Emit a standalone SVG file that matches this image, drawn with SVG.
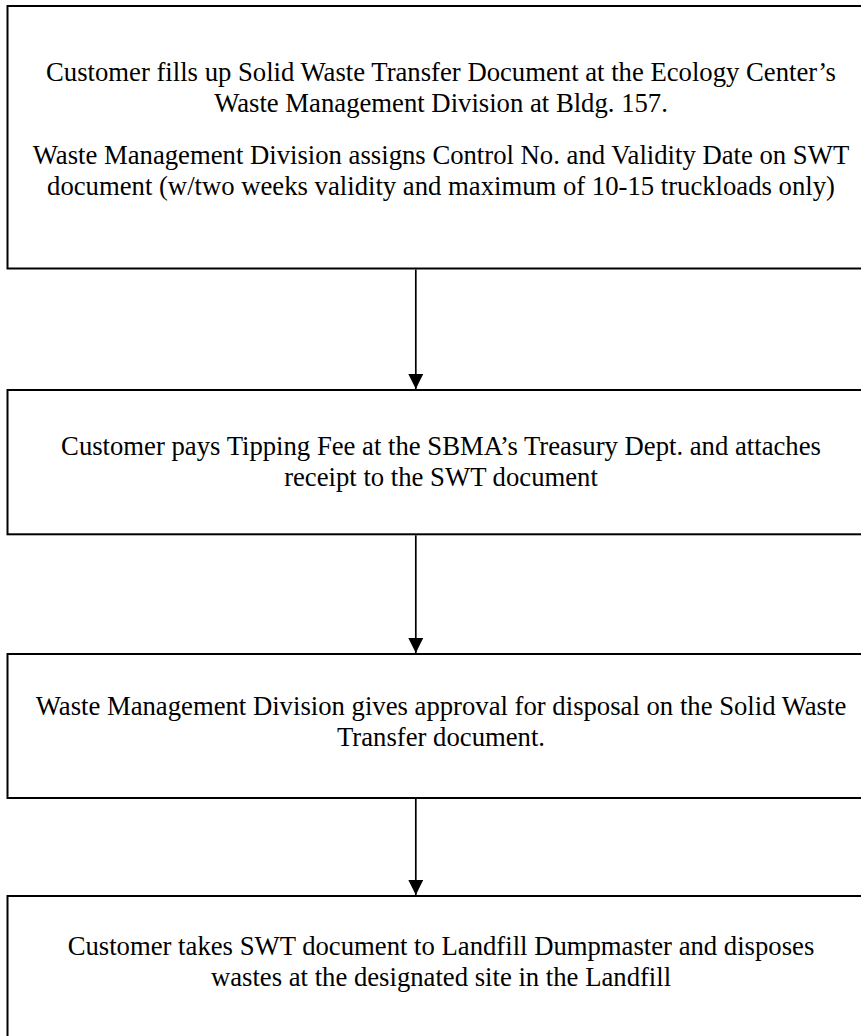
<svg xmlns="http://www.w3.org/2000/svg" width="861" height="1036" viewBox="0 0 861 1036">
  <style>
    .box { fill: #ffffff; stroke: #000000; stroke-width: 2; }
    .lbl { font-family: "Liberation Serif", "Times New Roman", serif; font-size: 26.7px; fill: #000000; text-anchor: middle; }
    .conn { stroke: #000000; stroke-width: 1.7; fill: none; }
  </style>
  <defs>
    <marker id="arrow" markerUnits="userSpaceOnUse" markerWidth="15" markerHeight="15" refX="15" refY="7.5" orient="auto">
      <path d="M0,0 L15,7.5 L0,15 Z" fill="#000000"/>
    </marker>
  </defs>
  <rect width="861" height="1036" fill="#ffffff"/>
  <g id="node1">
    <rect class="box" x="7.5" y="6" width="867" height="262.5"/>
    <text class="lbl" x="441" y="81">Customer fills up Solid Waste Transfer Document at the Ecology Center’s</text>
    <text class="lbl" x="441" y="112">Waste Management Division at Bldg. 157.</text>
    <text class="lbl" x="441" y="164">Waste Management Division assigns Control No. and Validity Date on SWT</text>
    <text class="lbl" x="441" y="195">document (w/two weeks validity and maximum of 10-15 truckloads only)</text>
  </g>
  <g id="node2">
    <rect class="box" x="7.5" y="390" width="867" height="144.3"/>
    <text class="lbl" x="441" y="455">Customer pays Tipping Fee at the SBMA’s Treasury Dept. and attaches</text>
    <text class="lbl" x="441" y="486">receipt to the SWT document</text>
  </g>
  <g id="node3">
    <rect class="box" x="7.5" y="654" width="867" height="144"/>
    <text class="lbl" x="441" y="715">Waste Management Division gives approval for disposal on the Solid Waste</text>
    <text class="lbl" x="441" y="746">Transfer document.</text>
  </g>
  <g id="node4">
    <rect class="box" x="7.5" y="896" width="867" height="144"/>
    <text class="lbl" x="441" y="955">Customer takes SWT document to Landfill Dumpmaster and disposes</text>
    <text class="lbl" x="441" y="986">wastes at the designated site in the Landfill</text>
  </g>
  <g id="connectors">
    <line class="conn" x1="415.8" y1="269.5" x2="415.8" y2="389" marker-end="url(#arrow)"/>
    <line class="conn" x1="415.8" y1="535.3" x2="415.8" y2="653" marker-end="url(#arrow)"/>
    <line class="conn" x1="415.8" y1="799" x2="415.8" y2="895" marker-end="url(#arrow)"/>
  </g>
</svg>
